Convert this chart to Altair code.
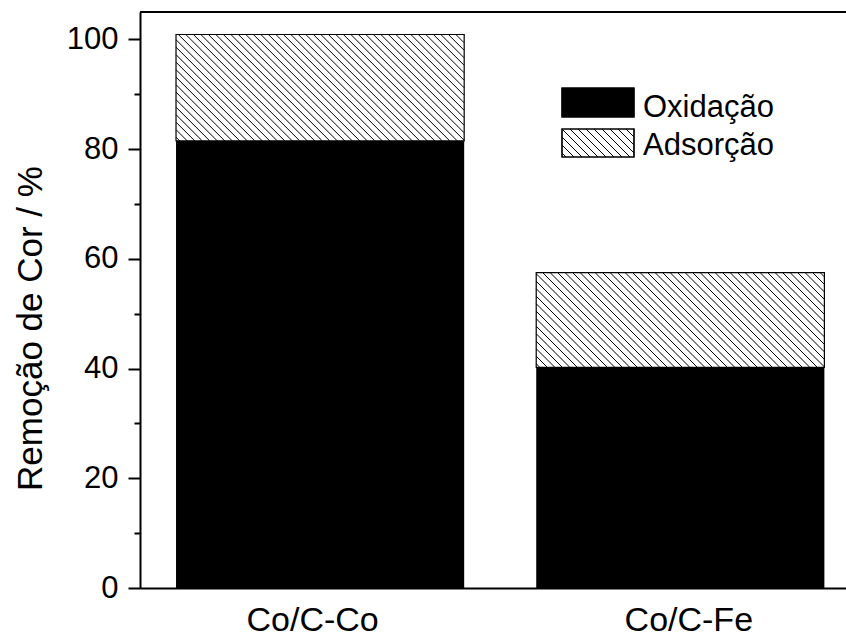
import altair as alt
import pandas as pd

# ---- data ----
categories = ["Co/C-Co", "Co/C-Fe"]
oxidacao = [81.5, 40.2]      # black part
adsorcao = [19.4, 17.3]      # hatched part on top
series_names = ["Oxidação", "Adsorção"]

# ---- layout ----
PLOT_W, PLOT_H = 706, 576
X_MAX, Y_MAX = 1.96, 105
BAR_HALF = 0.4
HATCH_STEP = 7.5   # px between hatch lines
FONT = "Liberation Sans"

sx = PLOT_W / X_MAX
sy = PLOT_H / Y_MAX

# bar rectangles
rows = []
for i, cat in enumerate(categories):
    c = i + 0.5
    rows.append({"cat": cat, "series": series_names[0], "x0": c - BAR_HALF, "x1": c + BAR_HALF,
                 "y0": 0.0, "y1": oxidacao[i]})
    rows.append({"cat": cat, "series": series_names[1], "x0": c - BAR_HALF, "x1": c + BAR_HALF,
                 "y0": oxidacao[i], "y1": oxidacao[i] + adsorcao[i]})
bars = pd.DataFrame(rows)
black = bars[bars.series == series_names[0]]
hatched = bars[bars.series == series_names[1]]

# hatch lines (derived from the hatched rectangles)
def hatch_segments(u0, u1, w0, w1, step):
    W, H = u1 - u0, w1 - w0
    segs = []
    k = step / 2
    while k < W + H:
        ulo, uhi = max(0.0, k - H), min(W, k)
        if uhi > ulo:
            segs.append((ulo, k - ulo, uhi, k - uhi))
        k += step
    return segs

hrows = []
for _, r in hatched.iterrows():
    W = (r.x1 - r.x0) * sx
    H = (r.y1 - r.y0) * sy
    for a, b, c2, d in hatch_segments(0, W, 0, H, HATCH_STEP):
        hrows.append({"hx": r.x0 + a / sx, "hy": r.y0 + b / sy,
                      "hx2": r.x0 + c2 / sx, "hy2": r.y0 + d / sy})
hatch = pd.DataFrame(hrows)

xscale = alt.Scale(domain=[0, X_MAX], nice=False, zero=False)
yscale = alt.Scale(domain=[0, Y_MAX], nice=False)

label_expr = "datum.value < 1 ? '%s' : '%s'" % (categories[0], categories[1])

x_axis = alt.Axis(values=[0.5, 1.5], labelExpr=label_expr, ticks=False, grid=False,
                  domainColor="black", domainWidth=2, labelFont=FONT, labelFontSize=34,
                  labelColor="black", labelPadding=15,
                  labelOffset={"condition": {"test": "datum.value < 1", "value": -8}, "value": 8},
                  title=None)
y_axis = alt.Axis(values=list(range(0, 101, 10)),
                  labelExpr="datum.value % 20 === 0 ? datum.label : ''",
                  tickSize={"condition": {"test": "datum.value % 20 === 0", "value": 12}, "value": 6},
                  tickWidth=2, tickColor="black", domainColor="black", domainWidth=2,
                  grid=False, labelFont=FONT, labelFontSize=31, labelColor="black",
                  labelPadding=10, title="Remoção de Cor / %", titleFont=FONT,
                  titleFontSize=35, titleFontWeight="normal", titleColor="black",
                  titleAngle=270, titleX=-110, titleY=316, titleAlign="center",
                  titleBaseline="middle")

black_bars = alt.Chart(black).mark_rect(color="black").encode(
    x=alt.X("x0:Q", scale=xscale, axis=x_axis), x2="x1:Q",
    y=alt.Y("y0:Q", scale=yscale, axis=y_axis), y2="y1:Q")

hatch_fill = alt.Chart(hatched).mark_rect(fill="white").encode(
    x=alt.X("x0:Q", scale=xscale), x2="x1:Q",
    y=alt.Y("y0:Q", scale=yscale), y2="y1:Q")

hatch_lines = alt.Chart(hatch).mark_rule(color="black", strokeWidth=1).encode(
    x=alt.X("hx:Q", scale=xscale), x2="hx2:Q",
    y=alt.Y("hy:Q", scale=yscale), y2="hy2:Q")

hatch_outline = alt.Chart(hatched).mark_rect(fill=None, stroke="black", strokeWidth=1.2).encode(
    x=alt.X("x0:Q", scale=xscale), x2="x1:Q",
    y=alt.Y("y0:Q", scale=yscale), y2="y1:Q")

top_border = alt.Chart(bars).mark_rule(color="black", strokeWidth=2).encode(
    x=alt.value(0), x2=alt.value(PLOT_W), y=alt.value(0))

# ---- legend (pixel positions in the plot area) ----
LX0, LX1 = 422, 494
leg_boxes = pd.DataFrame({
    "series": series_names,
    "lx0": [LX0, LX0], "lx1": [LX1, LX1],
    "ly0": [76, 117], "ly1": [105, 145],
    "tx": [503, 503], "ty": [105, 143],
    "fill": ["black", "white"],
})
lrows = []
hb = leg_boxes.iloc[1]
for a, b, c2, d in hatch_segments(0, LX1 - LX0, 0, hb.ly1 - hb.ly0, HATCH_STEP + 0.5):
    lrows.append({"px": hb.lx0 + a, "py": hb.ly1 - b, "px2": hb.lx0 + c2, "py2": hb.ly1 - d})
leg_hatch = pd.DataFrame(lrows)

leg_rect = alt.Chart(leg_boxes).mark_rect(stroke="black", strokeWidth=1.2).encode(
    x=alt.X("lx0:Q", scale=None), x2="lx1:Q",
    y=alt.Y("ly0:Q", scale=None), y2="ly1:Q",
    fill=alt.Fill("fill:N", scale=None))

leg_lines = alt.Chart(leg_hatch).mark_rule(color="black", strokeWidth=1).encode(
    x=alt.X("px:Q", scale=None), x2="px2:Q",
    y=alt.Y("py:Q", scale=None), y2="py2:Q")

leg_outline = alt.Chart(leg_boxes).mark_rect(fill=None, stroke="black", strokeWidth=1.2).encode(
    x=alt.X("lx0:Q", scale=None), x2="lx1:Q",
    y=alt.Y("ly0:Q", scale=None), y2="ly1:Q")

leg_text = alt.Chart(leg_boxes).mark_text(align="left", baseline="alphabetic", font=FONT,
                                          fontSize=31, color="black").encode(
    x=alt.X("tx:Q", scale=None), y=alt.Y("ty:Q", scale=None), text="series:N")

chart = alt.layer(
    black_bars, hatch_fill, hatch_lines, hatch_outline, top_border,
    leg_rect, leg_lines, leg_outline, leg_text
).resolve_scale(x="shared", y="shared").properties(
    width=PLOT_W, height=PLOT_H,
    autosize=alt.AutoSizeParams(type="none"),
    padding={"left": 140, "top": 12, "right": 0, "bottom": 51},
    background="white",
).configure_view(stroke=None)

chart.save("out.html", embed_options={"renderer": "svg", "actions": False})
